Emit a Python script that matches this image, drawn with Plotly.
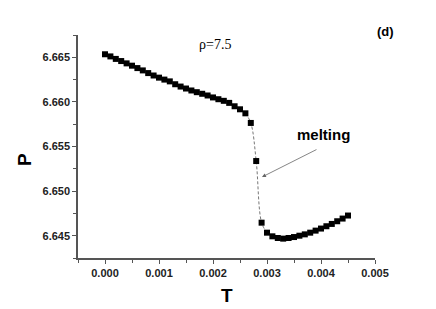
import plotly.graph_objects as go

T = [0.0000, 0.0001, 0.0002, 0.0003, 0.0004, 0.0005, 0.0006, 0.0007, 0.0008, 0.0009,
     0.0010, 0.0011, 0.0012, 0.0013, 0.0014, 0.0015, 0.0016, 0.0017, 0.0018, 0.0019,
     0.0020, 0.0021, 0.0022, 0.0023, 0.0024, 0.0025, 0.0026, 0.0027, 0.0028, 0.0029,
     0.0030, 0.0031, 0.0032, 0.0033, 0.0034, 0.0035, 0.0036, 0.0037, 0.0038, 0.0039,
     0.0040, 0.0041, 0.0042, 0.0043, 0.0044, 0.0045]
P = [6.66534, 6.66510, 6.66482, 6.66458, 6.66432, 6.66406, 6.66379, 6.66353, 6.66323, 6.66296,
     6.66272, 6.66250, 6.66230, 6.66198, 6.66172, 6.66150, 6.66128, 6.66109, 6.66091, 6.66072,
     6.66050, 6.66030, 6.66012, 6.65989, 6.65951, 6.65917, 6.65872, 6.65764, 6.65337, 6.64646,
     6.64534, 6.64493, 6.64474, 6.64467, 6.64474, 6.64485, 6.64500, 6.64515, 6.64534, 6.64557,
     6.64580, 6.64606, 6.64632, 6.64662, 6.64692, 6.64726]

# dashed guide through the melting jump
T_melt = T[26:31]
P_melt = P[26:31]

x_ticks = [0.000, 0.001, 0.002, 0.003, 0.004, 0.005]
y_ticks = [6.645, 6.650, 6.655, 6.660, 6.665]

axis_col = "#555555"
tick_font = dict(family="Arial, Liberation Sans, sans-serif", size=11, color="#222222", weight="bold")

# page body has an 8px default margin; size the figure so it fills the 436x309 window
OFF = 8
W, H = 436 - OFF, 309 - OFF
ML, MR, MT, MB = 78 - OFF, 61, 35 - OFF, 51
pw, ph = W - ML - MR, H - MT - MB

def px2paper(px, py):
    # px, py are window pixel positions
    return (px - OFF - ML) / pw, (H - MB - (py - OFF)) / ph

fig = go.Figure()
fig.add_trace(go.Scatter(x=T_melt, y=P_melt, mode="lines",
                         line=dict(color="#777777", width=1, dash="3px,2px", shape="spline"),
                         hoverinfo="skip", showlegend=False))
fig.add_trace(go.Scatter(x=T, y=P, mode="markers",
                         marker=dict(symbol="square", size=6, color="black"),
                         showlegend=False))

fig.update_layout(
    width=W, height=H,
    margin=dict(l=ML, r=MR, t=MT, b=MB, autoexpand=False),
    paper_bgcolor="white", plot_bgcolor="white",
    xaxis=dict(range=[-0.0005, 0.005], tickvals=x_ticks, tickformat=".3f", automargin=False,
               showgrid=False, zeroline=False, showline=True, linecolor=axis_col, linewidth=1.5,
               ticks="outside", ticklen=4, tickcolor=axis_col, tickwidth=1, tickfont=tick_font,
               minor=dict(tick0=-0.0005, dtick=0.001, ticks="outside", ticklen=3, tickcolor=axis_col)),
    yaxis=dict(range=[6.6425, 6.6675], tickvals=y_ticks, tickformat=".3f", automargin=False,
               showgrid=False, zeroline=False, showline=True, linecolor=axis_col, linewidth=1.5,
               ticks="outside", ticklen=4, tickcolor=axis_col, tickwidth=1, tickfont=tick_font,
               minor=dict(tick0=6.6425, dtick=0.005, ticks="outside", ticklen=3, tickcolor=axis_col)),
)

fig.add_annotation(x=0.002037, y=6.66647, xref="x", yref="y", text="ρ=7.5", showarrow=False,
                   xanchor="center", yanchor="middle",
                   font=dict(family="Liberation Serif, Times New Roman, serif", size=14, color="black"))
fig.add_annotation(x=0.004037, y=6.65632, xref="x", yref="y", text="melting", showarrow=False,
                   xanchor="center", yanchor="middle",
                   font=dict(family="Arial, Liberation Sans, sans-serif", size=15, color="black", weight="bold"))
fig.add_annotation(x=0.002907, y=6.65158, ax=0.003944, ay=6.65474, xref="x", yref="y",
                   axref="x", ayref="y", text="", showarrow=True, arrowhead=2, arrowsize=1,
                   arrowwidth=0.8, arrowcolor="#666666")

dx, dy = px2paper(385, 32)
fig.add_annotation(x=dx, y=dy, xref="paper", yref="paper", text="(d)", showarrow=False,
                   xanchor="center", yanchor="middle",
                   font=dict(family="Arial, Liberation Sans, sans-serif", size=13, color="black", weight="bold"))
px_, py_ = px2paper(24, 160)
fig.add_annotation(x=px_, y=py_, xref="paper", yref="paper", text="P", showarrow=False, textangle=-90,
                   xanchor="center", yanchor="middle",
                   font=dict(family="Arial, Liberation Sans, sans-serif", size=19, color="black", weight="bold"))
tx, ty = px2paper(227, 295)
fig.add_annotation(x=tx, y=ty, xref="paper", yref="paper", text="T", showarrow=False,
                   xanchor="center", yanchor="middle",
                   font=dict(family="Arial, Liberation Sans, sans-serif", size=19, color="black", weight="bold"))

fig.write_html("out.html")
